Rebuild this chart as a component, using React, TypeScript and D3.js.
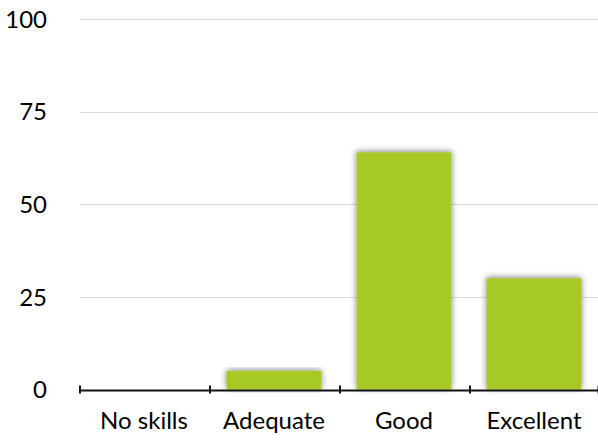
import React from "react";
import * as d3 from "d3";

const categories = ["No skills", "Adequate", "Good", "Excellent"];
const values = [0, 5, 64, 30];
const yTicks = [0, 25, 50, 75, 100];

const W = 598;
const H = 441;
const FONT = "Lato, 'Open Sans', sans-serif";

export default function App() {
  const x = d3.scaleBand<string>().domain(categories).range([79, 599]).paddingInner(0.27).paddingOuter(0.135);
  const xb = d3.scaleBand<string>().domain(categories).range([79, 599]);
  const y = d3.scaleLinear().domain([0, 100]).range([389.5, 19]);
  const axisY = 390.5;
  const tickXs = [...categories.map((c) => xb(c) as number), 599 - 1.5];

  return (
    <svg width={W} height={H} style={{ position: "absolute", left: 0, top: 0, background: "#fff" }}>
      <defs>
        <filter id="shadow" x="-20%" y="-20%" width="140%" height="140%">
          <feDropShadow dx="0" dy="-1" stdDeviation="3" floodColor="#000" floodOpacity="0.5" />
        </filter>
      </defs>
      {yTicks.map((t) => (
        <g key={t}>
          {t !== 0 && (
            <line x1={80} x2={W} y1={Math.round(y(t)) + 0.5} y2={Math.round(y(t)) + 0.5} stroke="#d9d9d9" strokeWidth={1} />
          )}
          <text
            x={47}
            y={y(t)}
            dy="0.36em"
            textAnchor="end"
            fontFamily={FONT}
            fontSize={24}
            fill="#000"
          >
            {t}
          </text>
        </g>
      ))}
      {categories.map((c, i) =>
        values[i] > 0 ? (
          <rect
            key={c}
            x={x(c)}
            width={x.bandwidth()}
            y={y(values[i])}
            height={y(0) - y(values[i])}
            fill="#a6c925"
            filter="url(#shadow)"
          />
        ) : null
      )}
      <line x1={79} x2={W} y1={axisY} y2={axisY} stroke="#111" strokeWidth={2} />
      {tickXs.map((tx, i) => (
        <line key={i} x1={tx + 1} x2={tx + 1} y1={axisY - 5} y2={axisY + 3} stroke="#111" strokeWidth={2} />
      ))}
      {categories.map((c) => (
        <text
          key={c}
          x={(xb(c) as number) + xb.bandwidth() / 2}
          y={429}
          textAnchor="middle"
          fontFamily={FONT}
          fontSize={24}
          fill="#000"
        >
          {c}
        </text>
      ))}
    </svg>
  );
}
